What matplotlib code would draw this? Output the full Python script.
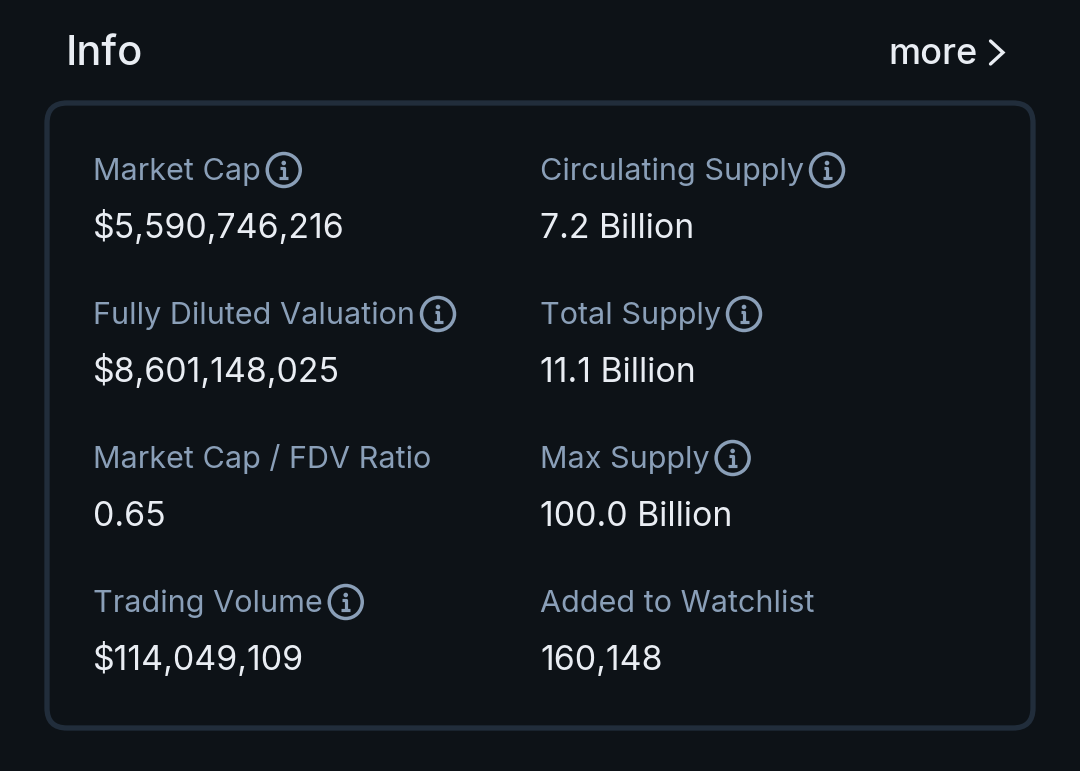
import matplotlib
matplotlib.use("Agg")
import matplotlib.pyplot as plt
from matplotlib.patches import FancyBboxPatch, Circle

title = "Info"
more_label = "more"
left_labels = ["Market Cap", "Fully Diluted Valuation", "Market Cap / FDV Ratio", "Trading Volume"]
left_values = ["$5,590,746,216", "$8,601,148,025", "0.65", "$114,049,109"]
left_info = [True, True, False, True]
right_labels = ["Circulating Supply", "Total Supply", "Max Supply", "Added to Watchlist"]
right_values = ["7.2 Billion", "11.1 Billion", "100.0 Billion", "160,148"]
right_info = [True, True, True, False]

BG = "#0d1217"
BORDER = "#212d3b"
MUTED = "#8a9fb8"
WHITE = "#e9edf3"
FONT = "Inter"

fig = plt.figure(figsize=(10.8, 7.71), dpi=100, facecolor=BG)
ax = fig.add_axes([0, 0, 1, 1])
ax.set_xlim(0, 1080)
ax.set_ylim(771, 0)
ax.axis("off")

ax.text(65.5, 65, title, color=WHITE, fontsize=30, family=FONT, weight="medium", va="baseline", ha="left")
ax.text(977.5, 64, more_label, color=WHITE, fontsize=26, family=FONT, weight="medium", va="baseline", ha="right")
ax.plot([990.5, 1003, 990.5], [41, 52.5, 64], color=WHITE, lw=2.4, solid_capstyle="round", solid_joinstyle="miter")

ax.add_patch(FancyBboxPatch((47, 103), 986, 625, boxstyle="round,pad=0,rounding_size=20",
                            fc=BG, ec=BORDER, lw=3.8))

renderer = fig.canvas.get_renderer()


def info_icon(cx, cy):
    ax.add_patch(Circle((cx, cy), 16.5, fc="none", ec=MUTED, lw=2.5))
    ax.add_patch(Circle((cx, cy - 7), 2.3, fc=MUTED, ec="none"))
    ax.plot([cx - 3.5, cx, cx, ], [cy - 2, cy - 2, cy + 8], color=MUTED, lw=2.3, solid_capstyle="butt")
    ax.plot([cx - 4.5, cx + 4.5], [cy + 8, cy + 8], color=MUTED, lw=2.3, solid_capstyle="butt")


def column(x, labels, values, flags):
    for i, (lab, val, has) in enumerate(zip(labels, values, flags)):
        base_l = 180 + 144 * i
        base_v = 238 + 144 * i
        t = ax.text(x, base_l, lab, color=MUTED, fontsize=22, family=FONT, va="baseline", ha="left")
        ax.text(x, base_v, val, color=WHITE, fontsize=24.4, family=FONT, va="baseline", ha="left")
        if has:
            bb = t.get_window_extent(renderer)
            info_icon(bb.x1 + 23, base_l - 10)


column(93, left_labels, left_values, left_info)
column(540, right_labels, right_values, right_info)

fig.savefig("out.png", dpi=100, facecolor=BG)
